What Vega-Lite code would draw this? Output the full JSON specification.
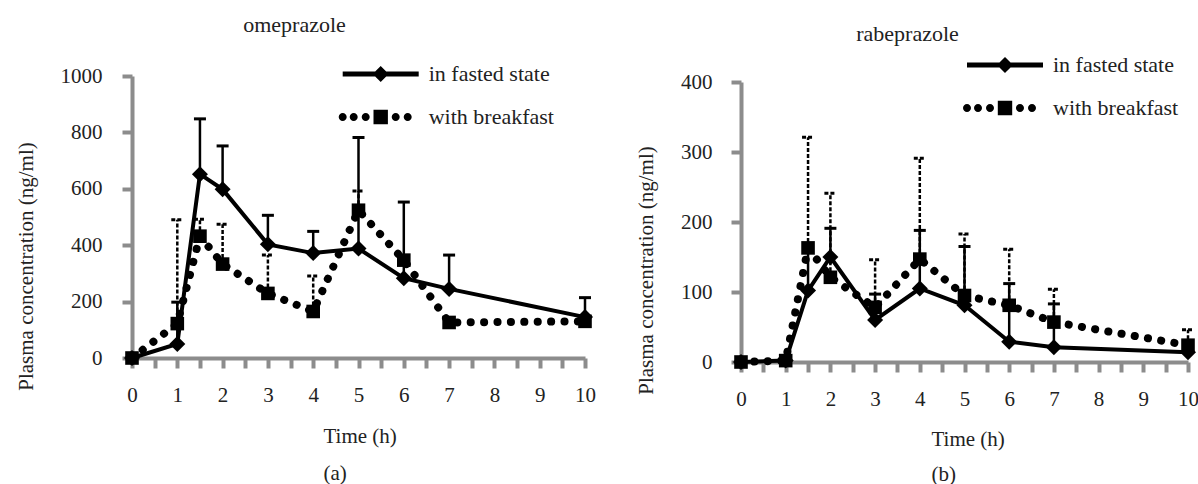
{
  "$schema": "https://vega.github.io/schema/vega-lite/v6.json",
  "padding": {"left": 15, "top": 14, "right": 0, "bottom": 0},
  "background": "white",
  "config": {
    "font": "Liberation Serif",
    "view": {"stroke": null},
    "axis": {
      "domainColor": "#8c8c8c", "domainWidth": 4, "domainCap": "butt",
      "tickColor": "#8c8c8c", "tickWidth": 4, "tickSize": 10,
      "grid": false,
      "labelFont": "Liberation Serif", "labelFontSize": 21, "labelColor": "#222",
      "titleFont": "Liberation Serif", "titleFontSize": 21, "titleFontWeight": "normal", "titleColor": "#222"
    },
    "legend": {"labelFont": "Liberation Serif"},
    "title": {"font": "Liberation Serif", "fontSize": 22, "fontWeight": "normal", "color": "#222"}
  },
  "datasets": {
    "pk": [
      {"drug": "omeprazole", "cond": "in fasted state", "t": 0, "mean": 0, "upper": null},
      {"drug": "omeprazole", "cond": "in fasted state", "t": 1, "mean": 50, "upper": 198},
      {"drug": "omeprazole", "cond": "in fasted state", "t": 1.5, "mean": 652, "upper": 848},
      {"drug": "omeprazole", "cond": "in fasted state", "t": 2, "mean": 598, "upper": 752},
      {"drug": "omeprazole", "cond": "in fasted state", "t": 3, "mean": 403, "upper": 506},
      {"drug": "omeprazole", "cond": "in fasted state", "t": 4, "mean": 372, "upper": 449},
      {"drug": "omeprazole", "cond": "in fasted state", "t": 5, "mean": 388, "upper": 782},
      {"drug": "omeprazole", "cond": "in fasted state", "t": 6, "mean": 283, "upper": 553},
      {"drug": "omeprazole", "cond": "in fasted state", "t": 7, "mean": 245, "upper": 365},
      {"drug": "omeprazole", "cond": "in fasted state", "t": 10, "mean": 145, "upper": 214},
      {"drug": "omeprazole", "cond": "with breakfast", "t": 0, "mean": 0, "upper": null},
      {"drug": "omeprazole", "cond": "with breakfast", "t": 1, "mean": 122, "upper": 490},
      {"drug": "omeprazole", "cond": "with breakfast", "t": 1.5, "mean": 432, "upper": 492},
      {"drug": "omeprazole", "cond": "with breakfast", "t": 2, "mean": 333, "upper": 474},
      {"drug": "omeprazole", "cond": "with breakfast", "t": 3, "mean": 229, "upper": 365},
      {"drug": "omeprazole", "cond": "with breakfast", "t": 4, "mean": 165, "upper": 291},
      {"drug": "omeprazole", "cond": "with breakfast", "t": 5, "mean": 524, "upper": 592},
      {"drug": "omeprazole", "cond": "with breakfast", "t": 6, "mean": 347, "upper": null},
      {"drug": "omeprazole", "cond": "with breakfast", "t": 7, "mean": 126, "upper": null},
      {"drug": "omeprazole", "cond": "with breakfast", "t": 10, "mean": 130, "upper": null},
      {"drug": "rabeprazole", "cond": "in fasted state", "t": 0, "mean": 0, "upper": null},
      {"drug": "rabeprazole", "cond": "in fasted state", "t": 1, "mean": 2, "upper": null},
      {"drug": "rabeprazole", "cond": "in fasted state", "t": 1.5, "mean": 102, "upper": 158},
      {"drug": "rabeprazole", "cond": "in fasted state", "t": 2, "mean": 150, "upper": 191},
      {"drug": "rabeprazole", "cond": "in fasted state", "t": 3, "mean": 60, "upper": 97},
      {"drug": "rabeprazole", "cond": "in fasted state", "t": 4, "mean": 105, "upper": 188},
      {"drug": "rabeprazole", "cond": "in fasted state", "t": 5, "mean": 81, "upper": 165},
      {"drug": "rabeprazole", "cond": "in fasted state", "t": 6, "mean": 29, "upper": 112},
      {"drug": "rabeprazole", "cond": "in fasted state", "t": 7, "mean": 21, "upper": 83},
      {"drug": "rabeprazole", "cond": "in fasted state", "t": 10, "mean": 14, "upper": null},
      {"drug": "rabeprazole", "cond": "with breakfast", "t": 0, "mean": 0, "upper": null},
      {"drug": "rabeprazole", "cond": "with breakfast", "t": 1, "mean": 2, "upper": null},
      {"drug": "rabeprazole", "cond": "with breakfast", "t": 1.5, "mean": 163, "upper": 321},
      {"drug": "rabeprazole", "cond": "with breakfast", "t": 2, "mean": 121, "upper": 241},
      {"drug": "rabeprazole", "cond": "with breakfast", "t": 3, "mean": 78, "upper": 146},
      {"drug": "rabeprazole", "cond": "with breakfast", "t": 4, "mean": 147, "upper": 291},
      {"drug": "rabeprazole", "cond": "with breakfast", "t": 5, "mean": 95, "upper": 183},
      {"drug": "rabeprazole", "cond": "with breakfast", "t": 6, "mean": 81, "upper": 161},
      {"drug": "rabeprazole", "cond": "with breakfast", "t": 7, "mean": 57, "upper": 104},
      {"drug": "rabeprazole", "cond": "with breakfast", "t": 10, "mean": 24, "upper": 46}
    ]
  },
  "bounds": "flush",
  "spacing": 156,
  "resolve": {"scale": {"shape": "independent"}, "legend": {"shape": "independent"}},
  "hconcat": [
    {
      "width": 453, "height": 282,
      "title": {"text": "omeprazole", "anchor": "middle", "frame": "group", "dx": -64, "offset": 26},
      "data": {"name": "pk"},
      "transform": [{"filter": "datum.drug === 'omeprazole'"}],
      "encoding": {
        "x": {"field": "t", "type": "quantitative", "scale": {"domain": [0, 10], "nice": false},
          "axis": {"values": [0, 0.5, 1, 1.5, 2, 2.5, 3, 3.5, 4, 4.5, 5, 5.5, 6, 6.5, 7, 7.5, 8, 8.5, 9, 9.5, 10],
            "labelExpr": "datum.value % 1 === 0 ? format(datum.value, 'd') : ''", "labelFont": "Liberation Serif", "labelPadding": 16, "labelOverlap": false, "labelFlush": false,
            "title": ["Time (h)", "(a)"], "titleLineHeight": 37, "titleY": 67, "titleX": 191, "titleAlign": "left", "titleBaseline": "top"}},
        "y": {"field": "mean", "type": "quantitative", "scale": {"domain": [0, 1000], "nice": false},
          "axis": {"values": [0, 200, 400, 600, 800, 1000], "format": "d", "labelFont": "Liberation Serif", "labelPadding": 20, "title": "Plasma concentration (ng/ml)", "titlePadding": 24, "titleY": 190}}
      },
      "layer": [
        {"transform": [{"filter": "datum.cond === 'with breakfast' && datum.upper != null"}],
          "mark": {"type": "rule", "color": "black", "strokeWidth": 2.5, "strokeDash": [4, 2]},
          "encoding": {"y2": {"field": "upper"}}},
        {"transform": [{"filter": "datum.cond === 'with breakfast' && datum.upper != null"}],
          "mark": {"type": "point", "shape": "M-1,0L1,0", "size": 144, "filled": false, "color": "black", "strokeWidth": 3, "strokeDash": [4, 2], "opacity": 1},
          "encoding": {"y": {"field": "upper", "type": "quantitative"}}},
        {"transform": [{"filter": "datum.cond === 'in fasted state' && datum.upper != null"}],
          "mark": {"type": "rule", "color": "black", "strokeWidth": 2.5},
          "encoding": {"y2": {"field": "upper"}}},
        {"transform": [{"filter": "datum.cond === 'in fasted state' && datum.upper != null"}],
          "mark": {"type": "point", "shape": "M-1,0L1,0", "size": 144, "filled": false, "color": "black", "strokeWidth": 3, "opacity": 1},
          "encoding": {"y": {"field": "upper", "type": "quantitative"}}},
        {"transform": [{"filter": "datum.cond === 'with breakfast'"}],
          "mark": {"type": "line", "color": "black", "strokeWidth": 8, "strokeCap": "round", "strokeDash": [0.1, 13.3]},
          "encoding": {}},
        {"transform": [{"filter": "datum.cond === 'with breakfast'"}],
          "mark": {"type": "point", "shape": "M-0.85,-0.85L0.85,-0.85L0.85,0.85L-0.85,0.85Z", "size": 256, "filled": true, "color": "black", "opacity": 1},
          "encoding": {}},
        {"transform": [{"filter": "datum.cond === 'in fasted state'"}],
          "mark": {"type": "line", "color": "black", "strokeWidth": 4},
          "encoding": {}},
        {"transform": [{"filter": "datum.cond === 'in fasted state'"}],
          "mark": {"type": "point", "shape": "M0,-1L1,0L0,1L-1,0Z", "size": 256, "filled": true, "color": "black", "opacity": 1},
          "encoding": {}},
        {"mark": {"type": "point", "filled": true, "opacity": 0, "color": "black"},
          "encoding": {"shape": {"field": "cond", "type": "nominal",
            "scale": {"domain": ["in fasted state", "with breakfast"],
              "range": ["M-4.75,-0.31L-0.69,-0.31L0,-1L0.69,-0.31L4.75,-0.31L4.75,0.31L0.69,0.31L0,1L-0.69,0.31L-4.75,0.31Z",
                "M-5.25,0a0.5,0.5 0 1,0 1,0a0.5,0.5 0 1,0 -1,0ZM-3.875,0a0.5,0.5 0 1,0 1,0a0.5,0.5 0 1,0 -1,0ZM-2.375,0a0.5,0.5 0 1,0 1,0a0.5,0.5 0 1,0 -1,0ZM-0.9,-0.9L0.9,-0.9L0.9,0.9L-0.9,0.9ZM1.375,0a0.5,0.5 0 1,0 1,0a0.5,0.5 0 1,0 -1,0ZM2.875,0a0.5,0.5 0 1,0 1,0a0.5,0.5 0 1,0 -1,0Z"]},
            "legend": {"title": null, "orient": "none", "legendX": 237.7, "legendY": -13, "symbolSize": 256,
              "symbolFillColor": "black", "symbolStrokeColor": "black", "symbolStrokeWidth": 0, "symbolOpacity": 1,
              "labelFont": "Liberation Serif", "labelFontSize": 22, "labelColor": "#222", "labelOffset": 37, "rowPadding": 21, "labelLimit": 300}}}}
      ]
    },
    {
      "bounds": "flush",
      "spacing": 0,
      "resolve": {"scale": {"shape": "independent"}, "legend": {"shape": "independent"}},
      "vconcat": [
        {"width": 10, "height": 6, "data": {"values": [{"a": 1}]}, "mark": {"type": "point", "opacity": 0}, "encoding": {}},
        {
          "width": 447, "height": 280,
          "title": {"text": "rabeprazole", "anchor": "middle", "frame": "group", "dx": -57, "offset": 8},
          "data": {"name": "pk"},
          "transform": [{"filter": "datum.drug === 'rabeprazole'"}],
          "encoding": {
            "x": {"field": "t", "type": "quantitative", "scale": {"domain": [0, 10], "nice": false},
              "axis": {"values": [0, 0.5, 1, 1.5, 2, 2.5, 3, 3.5, 4, 4.5, 5, 5.5, 6, 6.5, 7, 7.5, 8, 8.5, 9, 9.5, 10],
                "labelExpr": "datum.value % 1 === 0 ? format(datum.value, 'd') : ''", "labelFont": "Liberation Serif", "labelPadding": 16, "labelOverlap": false, "labelFlush": false,
                "title": ["Time (h)", "(b)"], "titleLineHeight": 35, "titleY": 66, "titleX": 190, "titleAlign": "left", "titleBaseline": "top"}},
            "y": {"field": "mean", "type": "quantitative", "scale": {"domain": [0, 400], "nice": false},
              "axis": {"values": [0, 100, 200, 300, 400], "format": "d", "labelFont": "Liberation Serif", "labelPadding": 19, "title": "Plasma concentration (ng/ml)", "titlePadding": 24, "titleY": 188}}
          },
          "layer": [
            {"transform": [{"filter": "datum.cond === 'with breakfast' && datum.upper != null"}],
              "mark": {"type": "rule", "color": "black", "strokeWidth": 2.5, "strokeDash": [4, 2]},
              "encoding": {"y2": {"field": "upper"}}},
            {"transform": [{"filter": "datum.cond === 'with breakfast' && datum.upper != null"}],
              "mark": {"type": "point", "shape": "M-1,0L1,0", "size": 144, "filled": false, "color": "black", "strokeWidth": 3, "strokeDash": [4, 2], "opacity": 1},
              "encoding": {"y": {"field": "upper", "type": "quantitative"}}},
            {"transform": [{"filter": "datum.cond === 'in fasted state' && datum.upper != null"}],
              "mark": {"type": "rule", "color": "black", "strokeWidth": 2.5},
              "encoding": {"y2": {"field": "upper"}}},
            {"transform": [{"filter": "datum.cond === 'in fasted state' && datum.upper != null"}],
              "mark": {"type": "point", "shape": "M-1,0L1,0", "size": 144, "filled": false, "color": "black", "strokeWidth": 3, "opacity": 1},
              "encoding": {"y": {"field": "upper", "type": "quantitative"}}},
            {"transform": [{"filter": "datum.cond === 'with breakfast'"}],
              "mark": {"type": "line", "color": "black", "strokeWidth": 8, "strokeCap": "round", "strokeDash": [0.1, 13.3]},
              "encoding": {}},
            {"transform": [{"filter": "datum.cond === 'with breakfast'"}],
              "mark": {"type": "point", "shape": "M-0.85,-0.85L0.85,-0.85L0.85,0.85L-0.85,0.85Z", "size": 256, "filled": true, "color": "black", "opacity": 1},
              "encoding": {}},
            {"transform": [{"filter": "datum.cond === 'in fasted state'"}],
              "mark": {"type": "line", "color": "black", "strokeWidth": 4},
              "encoding": {}},
            {"transform": [{"filter": "datum.cond === 'in fasted state'"}],
              "mark": {"type": "point", "shape": "M0,-1L1,0L0,1L-1,0Z", "size": 256, "filled": true, "color": "black", "opacity": 1},
              "encoding": {}},
            {"mark": {"type": "point", "filled": true, "opacity": 0, "color": "black"},
              "encoding": {"shape": {"field": "cond", "type": "nominal",
                "scale": {"domain": ["in fasted state", "with breakfast"],
                  "range": ["M-4.75,-0.31L-0.69,-0.31L0,-1L0.69,-0.31L4.75,-0.31L4.75,0.31L0.69,0.31L0,1L-0.69,0.31L-4.75,0.31Z",
                    "M-5.25,0a0.5,0.5 0 1,0 1,0a0.5,0.5 0 1,0 -1,0ZM-3.875,0a0.5,0.5 0 1,0 1,0a0.5,0.5 0 1,0 -1,0ZM-2.375,0a0.5,0.5 0 1,0 1,0a0.5,0.5 0 1,0 -1,0ZM-0.9,-0.9L0.9,-0.9L0.9,0.9L-0.9,0.9ZM1.375,0a0.5,0.5 0 1,0 1,0a0.5,0.5 0 1,0 -1,0ZM2.875,0a0.5,0.5 0 1,0 1,0a0.5,0.5 0 1,0 -1,0Z"]},
                "legend": {"title": null, "orient": "none", "legendX": 253, "legendY": -28, "symbolSize": 256,
                  "symbolFillColor": "black", "symbolStrokeColor": "black", "symbolStrokeWidth": 0, "symbolOpacity": 1,
                  "labelFont": "Liberation Serif", "labelFontSize": 22, "labelColor": "#222", "labelOffset": 37, "rowPadding": 21, "labelLimit": 300}}}}
          ]
        }
      ]
    }
  ]
}
